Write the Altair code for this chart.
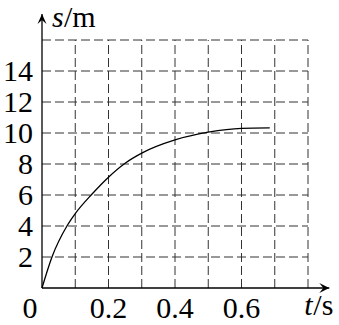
import altair as alt
import pandas as pd

# curve values
t_vals = [0, 0.03, 0.075, 0.1, 0.15, 0.2, 0.25, 0.3, 0.4, 0.5, 0.6, 0.685]
s_vals = [0, 2, 4, 4.8, 6.05, 7.15, 8.05, 8.7, 9.55, 10.05, 10.3, 10.33]

x_grid = [0.1, 0.2, 0.3, 0.4, 0.5, 0.6, 0.7, 0.8]
y_grid = [2, 4, 6, 8, 10, 12, 14, 16]
x_labels = [0.2, 0.4, 0.6]
y_labels = [2, 4, 6, 8, 10, 12, 14]

X_MAX, Y_MAX = 0.8, 16
X_TIP, Y_TIP = 0.864, 17.68

FONT = "Liberation Serif"
FS = 30
FS_ANN = 30

xs = alt.Scale(domain=[0, X_MAX], nice=False, zero=False)
ys = alt.Scale(domain=[0, Y_MAX], nice=False, zero=False)

curve_df = pd.DataFrame({"t": t_vals, "s": s_vals})
vgrid_df = pd.DataFrame({"t": x_grid, "s0": 0, "s1": Y_MAX})
hgrid_df = pd.DataFrame({"s": y_grid, "t0": 0, "t1": X_MAX})

dash = [9, 4]
vgrid = alt.Chart(vgrid_df).mark_rule(color="#333", strokeWidth=1, strokeDash=dash).encode(
    x=alt.X("t:Q", scale=xs, axis=None),
    y=alt.Y("s0:Q", scale=ys, axis=None),
    y2="s1:Q",
)
hgrid = alt.Chart(hgrid_df).mark_rule(color="#333", strokeWidth=1, strokeDash=dash).encode(
    y=alt.Y("s:Q", scale=ys, axis=None),
    x=alt.X("t0:Q", scale=xs, axis=None),
    x2="t1:Q",
)

axes_df = pd.DataFrame({"x0": [0, 0], "x1": [X_TIP, 0], "y0": [0, 0], "y1": [0, Y_TIP]})
axes = alt.Chart(axes_df).mark_rule(color="black", strokeWidth=1.3).encode(
    x=alt.X("x0:Q", scale=xs, axis=None),
    x2="x1:Q",
    y=alt.Y("y0:Q", scale=ys, axis=None),
    y2="y1:Q",
)

arrow_r = alt.Chart(pd.DataFrame({"t": [X_TIP], "s": [0]})).mark_point(
    shape="M0,0 L-1,-0.5 L-0.6,0 L-1,0.5 Z", size=400, filled=True, color="black", opacity=1
).encode(x=alt.X("t:Q", scale=xs, axis=None), y=alt.Y("s:Q", scale=ys, axis=None))
arrow_u = alt.Chart(pd.DataFrame({"t": [0], "s": [Y_TIP]})).mark_point(
    shape="M0,0 L-0.45,1 L0,0.6 L0.45,1 Z", size=400, filled=True, color="black", opacity=1
).encode(x=alt.X("t:Q", scale=xs, axis=None), y=alt.Y("s:Q", scale=ys, axis=None))

curve = alt.Chart(curve_df).mark_line(color="black", strokeWidth=1.3, interpolate="monotone").encode(
    x=alt.X("t:Q", scale=xs, axis=None),
    y=alt.Y("s:Q", scale=ys, axis=None),
)

ylab = alt.Chart(pd.DataFrame({"v": y_labels, "t": 0})).mark_text(
    font=FONT, fontSize=FS, align="right", baseline="middle", dx=-9, dy=1, color="black"
).encode(x=alt.X("t:Q", scale=xs, axis=None), y=alt.Y("v:Q", scale=ys, axis=None), text="v:N")

xlab = alt.Chart(pd.DataFrame({"v": x_labels, "s": 0, "txt": [str(v) for v in x_labels]})).mark_text(
    font=FONT, fontSize=FS, align="center", baseline="middle", dy=21, color="black"
).encode(x=alt.X("v:Q", scale=xs, axis=None), y=alt.Y("s:Q", scale=ys, axis=None), text="txt:N")

zero = alt.Chart(pd.DataFrame({"v": [0], "s": 0, "txt": ["0"]})).mark_text(
    font=FONT, fontSize=FS, align="center", baseline="middle", dx=-12, dy=21, color="black"
).encode(x=alt.X("v:Q", scale=xs, axis=None), y=alt.Y("s:Q", scale=ys, axis=None), text="txt:N")

ann_df = pd.DataFrame({
    "t": [0, 0, 0.789, 0.789],
    "s": [16.84, 16.84, -1.74, -1.74],
    "txt": ["s", "/m", "t", "/s"],
    "style": ["italic", "normal", "italic", "normal"],
    "dx": [10, 22, 0, 9],
})
ann_layers = []
for i, row in ann_df.iterrows():
    ann_layers.append(
        alt.Chart(ann_df.iloc[[i]]).mark_text(
            font=FONT, fontSize=FS_ANN, align="left", baseline="alphabetic",
            fontStyle=row["style"], dx=int(row["dx"]), color="black"
        ).encode(x=alt.X("t:Q", scale=xs, axis=None), y=alt.Y("s:Q", scale=ys, axis=None), text="txt:N")
    )

chart = alt.layer(vgrid, hgrid, curve, axes, arrow_r, arrow_u, ylab, xlab, zero, *ann_layers).properties(
    width=266, height=248,
    autosize=alt.AutoSizeParams(type="none"),
    padding={"left": 42, "top": 40, "right": 31, "bottom": 37},
    background="white",
).configure_view(stroke=None)

chart.save("out.html", embed_options={"renderer": "svg", "actions": False})
